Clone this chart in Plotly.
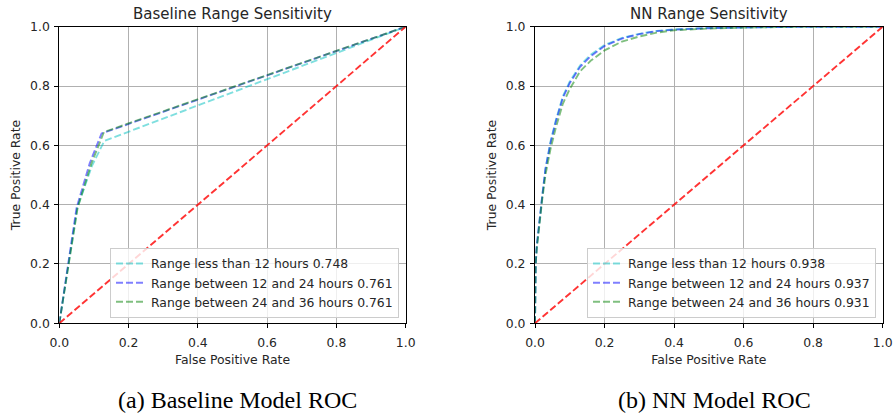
import plotly.graph_objects as go

# ---------------- data ----------------
base_titles = "Baseline Range Sensitivity"
nn_titles = "NN Range Sensitivity"
tick_vals = [0.0, 0.2, 0.4, 0.6, 0.8, 1.0]
tick_text = ["0.0", "0.2", "0.4", "0.6", "0.8", "1.0"]

series_names = ["Range less than 12 hours", "Range between 12 and 24 hours", "Range between 24 and 36 hours"]
base_auc = ["0.748", "0.761", "0.761"]
nn_auc = ["0.938", "0.937", "0.931"]

# Baseline ROC points
base_lt12_fpr = [0.0, 0.052, 0.094, 0.130, 1.0]
base_lt12_tpr = [0.0, 0.390, 0.530, 0.615, 1.0]
base_12_24_fpr = [0.0, 0.050, 0.088, 0.122, 1.0]
base_12_24_tpr = [0.0, 0.390, 0.540, 0.640, 1.0]
base_24_36_fpr = [0.0, 0.053, 0.093, 0.129, 1.0]
base_24_36_tpr = [0.0, 0.390, 0.540, 0.645, 1.0]

# NN ROC points
nn_fpr = [0.0, 0.002, 0.005, 0.01, 0.02, 0.03, 0.045, 0.06, 0.08, 0.10, 0.13, 0.16, 0.20, 0.25, 0.30, 0.35, 0.40, 0.50, 0.60, 0.80, 1.0]
nn_lt12_tpr = [0.0, 0.20, 0.26, 0.32, 0.42, 0.52, 0.615, 0.685, 0.765, 0.815, 0.87, 0.905, 0.938, 0.962, 0.976, 0.986, 0.991, 0.996, 0.998, 1.0, 1.0]
nn_12_24_tpr = [0.0, 0.20, 0.26, 0.32, 0.42, 0.52, 0.610, 0.680, 0.760, 0.810, 0.865, 0.900, 0.935, 0.960, 0.975, 0.985, 0.990, 0.995, 0.998, 1.0, 1.0]
nn_24_36_tpr = [0.0, 0.20, 0.25, 0.31, 0.41, 0.50, 0.590, 0.660, 0.740, 0.790, 0.850, 0.885, 0.920, 0.950, 0.967, 0.980, 0.988, 0.994, 0.997, 1.0, 1.0]

chance = [0.0, 1.0]
captions = ["(a) Baseline Model ROC", "(b) NN Model ROC"]

# ---------------- styling ----------------
W, H = 893, 417
colors = ["rgba(0,191,191,0.5)", "rgba(0,0,255,0.5)", "rgba(0,128,0,0.5)"]
red = "rgba(255,0,0,0.8)"
dash = "7px,3px"
lw = 1.9
sans = "DejaVu Sans"
txt = "#262626"
fs = 12.4

def px(x):
    return x / W

def py(y):
    return 1 - y / H

left_dom = [px(59.3), px(405.7)]
right_dom = [px(535.0), px(882.7)]
ydom = [py(323.3), py(26.7)]

fig = go.Figure()

base_sets = [(base_lt12_fpr, base_lt12_tpr), (base_12_24_fpr, base_12_24_tpr), (base_24_36_fpr, base_24_36_tpr)]
for (fx, ty), name, auc, c in zip(base_sets, series_names, base_auc, colors):
    fig.add_trace(go.Scatter(x=fx, y=ty, mode="lines", name=f"{name} {auc}",
                             line=dict(color=c, width=lw, dash=dash),
                             xaxis="x", yaxis="y", legend="legend"))
fig.add_trace(go.Scatter(x=chance, y=chance, mode="lines", showlegend=False,
                         line=dict(color=red, width=lw, dash=dash), xaxis="x", yaxis="y"))

nn_sets = [nn_lt12_tpr, nn_12_24_tpr, nn_24_36_tpr]
for ty, name, auc, c in zip(nn_sets, series_names, nn_auc, colors):
    fig.add_trace(go.Scatter(x=nn_fpr, y=ty, mode="lines", name=f"{name} {auc}",
                             line=dict(color=c, width=lw, dash=dash),
                             xaxis="x2", yaxis="y2", legend="legend2"))
fig.add_trace(go.Scatter(x=chance, y=chance, mode="lines", showlegend=False,
                         line=dict(color=red, width=lw, dash=dash), xaxis="x2", yaxis="y2"))

axis_common = dict(range=[0, 1], tickvals=tick_vals, ticktext=tick_text,
                   showgrid=True, gridcolor="#b0b0b0", gridwidth=1,
                   showline=True, linecolor="black", linewidth=1, mirror=True,
                   ticks="outside", ticklen=4, tickwidth=1, tickcolor="black",
                   zeroline=False, tickfont=dict(family=sans, size=fs, color=txt),
                   fixedrange=True, automargin=False)

legend_common = dict(bgcolor="rgba(255,255,255,0.8)", bordercolor="#cccccc", borderwidth=1,
                     font=dict(family=sans, size=fs, color=txt), xanchor="right", yanchor="bottom",
                     itemwidth=30, tracegroupgap=0)

title_font = dict(family=sans, size=fs, color=txt)

fig.update_layout(
    width=W, height=H, margin=dict(l=0, r=0, t=0, b=0),
    paper_bgcolor="white", plot_bgcolor="white",
    xaxis=dict(domain=left_dom, anchor="y", ticklabelstandoff=4,
               title=dict(text="False Positive Rate", font=title_font, standoff=6),
               **axis_common),
    yaxis=dict(domain=ydom, anchor="x", ticklabelstandoff=2,
               title=dict(text="True Positive Rate", font=title_font, standoff=6),
               **axis_common),
    xaxis2=dict(domain=right_dom, anchor="y2", ticklabelstandoff=4,
                title=dict(text="False Positive Rate", font=title_font, standoff=6),
                **axis_common),
    yaxis2=dict(domain=ydom, anchor="x2", ticklabelstandoff=2,
                title=dict(text="True Positive Rate", font=title_font, standoff=6),
                **axis_common),
    legend=dict(x=px(399), y=py(318), **legend_common),
    legend2=dict(x=px(876), y=py(318), **legend_common),
    annotations=[
        dict(text=base_titles, x=(left_dom[0] + left_dom[1]) / 2, y=py(14), xref="paper", yref="paper",
             showarrow=False, font=dict(family=sans, size=15, color=txt), xanchor="center", yanchor="middle"),
        dict(text=nn_titles, x=(right_dom[0] + right_dom[1]) / 2, y=py(14), xref="paper", yref="paper",
             showarrow=False, font=dict(family=sans, size=15, color=txt), xanchor="center", yanchor="middle"),
        dict(text=captions[0], x=px(237), y=py(400), xref="paper", yref="paper",
             showarrow=False, font=dict(family="Liberation Serif", size=24, color="black"), xanchor="center", yanchor="middle"),
        dict(text=captions[1], x=px(714), y=py(400), xref="paper", yref="paper",
             showarrow=False, font=dict(family="Liberation Serif", size=24, color="black"), xanchor="center", yanchor="middle"),
    ],
    showlegend=True,
)

fig.write_html("out.html", config={"displayModeBar": False})
